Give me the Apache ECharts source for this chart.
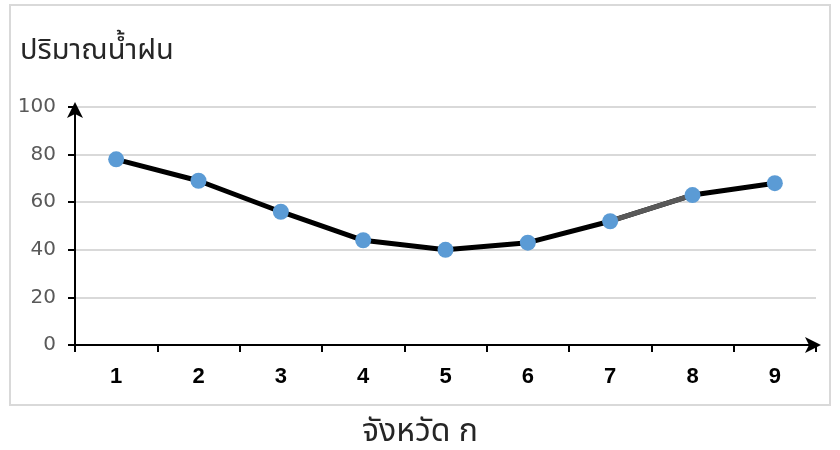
<!DOCTYPE html>
<html><head><meta charset="utf-8">
<script src="https://cdn.jsdelivr.net/npm/echarts@6/dist/echarts.min.js"></script>
<style>html,body{margin:0;padding:0;background:#fff}#c{width:840px;height:450px}</style>
</head><body><div id="c"></div>
<script>
var categories = ['1','2','3','4','5','6','7','8','9'];
var rainfall = [78, 69, 56, 44, 40, 43, 52, 63, 68];
var yTicks = [0, 20, 40, 60, 80, 100];
var yTitle = 'ปริมาณน้ำฝน';
var xTitle = 'จังหวัด ก';
var greySegment = [6, 7];

var greyData = rainfall.map(function(v, i){ return greySegment.indexOf(i) >= 0 ? v : '-'; });
var thaiFont = '"Noto Sans Thai","Noto Sans","DejaVu Sans",sans-serif';

var chart = echarts.init(document.getElementById('c'), null, {renderer:'canvas'});
chart.setOption({
  animation: false,
  backgroundColor: '#fff',
  graphic: [
    {type:'rect', shape:{x:10, y:5, width:820, height:400}, style:{fill:'none', stroke:'#d9d9d9', lineWidth:2}, z:-1},
    {type:'text', left:20, top:39, style:{text:yTitle, font:'29px ' + thaiFont, fill:'#262626'}},
    {type:'text', left:'center', top:419, style:{text:xTitle, font:'32px ' + thaiFont, fill:'#262626'}},
    {type:'line', shape:{x1:68, y1:345, x2:75, y2:345}, style:{stroke:'#000', lineWidth:2}}
  ],
  grid: {left:75, right:24, top:107, bottom:105, containLabel:false},
  xAxis: {
    type:'category', data:categories, boundaryGap:true,
    axisLine:{show:true, lineStyle:{color:'#000', width:2}, symbol:['none','arrow'], symbolSize:[12,16], symbolOffset:[0,5]},
    axisTick:{show:true, length:7, lineStyle:{color:'#000', width:2}},
    axisLabel:{color:'#000', fontSize:22, fontWeight:'bold', fontFamily:'"Liberation Sans",Arial,sans-serif', margin:21},
    splitLine:{show:false}
  },
  yAxis: {
    type:'value', min:yTicks[0], max:yTicks[yTicks.length-1], interval:20,
    axisLine:{show:true, lineStyle:{color:'#000', width:2}, symbol:['none','arrow'], symbolSize:[12,16], symbolOffset:[0,5]},
    axisTick:{show:true, length:7, lineStyle:{color:'#000', width:2}},
    axisLabel:{color:'#595959', fontSize:20, fontFamily:'"DejaVu Sans",sans-serif', margin:19},
    splitLine:{show:true, lineStyle:{color:'#d9d9d9', width:2}}
  },
  series: [
    {type:'line', data:rainfall, symbol:'none', lineStyle:{color:'#000', width:5}, z:2},
    {type:'line', data:greyData, symbol:'none', connectNulls:false, lineStyle:{color:'#595959', width:5}, z:3},
    {type:'scatter', data:rainfall, symbol:'circle', symbolSize:16, itemStyle:{color:'#5b9bd5', opacity:1}, z:4}
  ]
});
</script></body></html>
